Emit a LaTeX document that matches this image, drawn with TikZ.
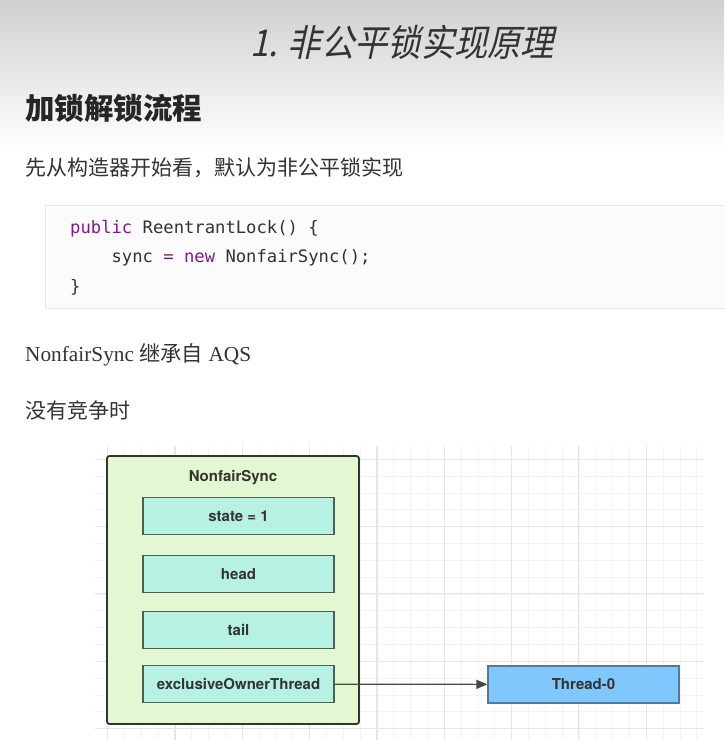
\documentclass[tikz,border=0pt]{standalone}
\usepackage{fontspec}
\setmainfont{Liberation Serif}
\newfontfamily\cjk{Noto Sans CJK SC}
\newfontfamily\titlefont{Noto Sans CJK SC}[FakeSlant=0.22,FakeStretch=0.9]
\newfontfamily\codefont{DejaVu Sans Mono}
\newfontfamily\diafont{TeX Gyre Heros}
\usetikzlibrary{arrows.meta}
\definecolor{txt}{HTML}{333333}
\definecolor{kw}{HTML}{7D1D84}
\definecolor{gridminor}{HTML}{F4F4F4}
\definecolor{gridmajor}{HTML}{E6E6E6}
\definecolor{outerfill}{HTML}{E3F8D2}
\definecolor{innerfill}{HTML}{B6F1E4}
\definecolor{innerdraw}{HTML}{4A6054}
\definecolor{thrfill}{HTML}{7FC7FC}
\definecolor{thrdraw}{HTML}{55789A}
\definecolor{codebg}{HTML}{FBFBFB}
\definecolor{codeframe}{HTML}{E6E6E6}
\definecolor{topgray}{HTML}{D0D0D0}
\tikzset{
  txtnode/.style={anchor=west,inner sep=0pt,text=txt},
  outerbox/.style={draw=txt,line width=1.8pt,fill=outerfill,rounded corners=2.5pt,minimum width=252pt,minimum height=268pt,inner sep=0pt},
  fieldbox/.style={draw=innerdraw,line width=1.4pt,fill=innerfill,minimum width=191pt,minimum height=37pt,inner sep=0pt,font=\diafont\bfseries\fontsize{15pt}{17pt}\selectfont,text=txt},
  threadbox/.style={draw=thrdraw,line width=1.2pt,fill=thrfill,minimum width=191pt,minimum height=37pt,inner sep=0pt,font=\diafont\bfseries\fontsize{15pt}{17pt}\selectfont,text=txt},
  conn/.style={draw=txt!90,line width=1.2pt,-{Triangle[length=11pt,width=9pt]}},
  codeline/.style={anchor=west,inner sep=0pt,font=\codefont\fontsize{17.2pt}{20pt}\selectfont,text=txt}
}
\begin{document}
\begin{tikzpicture}[x=1pt,y=-1pt]
\useasboundingbox (0,0) rectangle (724,740);
% background
\fill[white] (0,0) rectangle (724,740);
\shade[top color=topgray,bottom color=white] (0,0) rectangle (724,150);
% title
\node[txtnode,font=\titlefont\fontsize{37pt}{40pt}\selectfont] (title) at (250,42) {1. 非公平锁实现原理};
% heading
\node[txtnode,font=\cjk\bfseries\fontsize{29.5pt}{32pt}\selectfont,text=black!85] (head1) at (25,108) {加锁解锁流程};
\node[txtnode,font=\cjk\fontsize{21pt}{24pt}\selectfont] (intro) at (25,168) {先从构造器开始看，默认为非公平锁实现};
% code block
\draw[fill=codebg,draw=codeframe,line width=1pt] (45,205) rectangle (730,308);
\node[codeline] (c1) at (70,229) {\textcolor{kw}{public} ReentrantLock() \{};
\node[codeline] (c2) at (111.4,258) {sync \textcolor{kw}{=} \textcolor{kw}{new} NonfairSync();};
\node[codeline] (c3) at (70,287) {\}};
% texts
\node[txtnode,font=\fontsize{21.3pt}{24pt}\selectfont] (inh) at (25,355) {NonfairSync {\cjk 继承自} AQS};
\node[txtnode,font=\cjk\fontsize{21pt}{24pt}\selectfont] (nocomp) at (25,410) {没有竞争时};
% grid
\begin{scope}
\clip (95,446) rectangle (704,740);
\foreach \i in {-1,...,36}{
  \draw[gridminor,line width=0.8pt] ({107.7+16.83*\i},446) -- ({107.7+16.83*\i},740);
}
\foreach \j in {-1,...,17}{
  \draw[gridminor,line width=0.8pt] (95,{459.3+16.83*\j}) -- (704,{459.3+16.83*\j});
}
\foreach \i in {0,4,...,36}{
  \draw[gridmajor,line width=1.1pt] ({107.7+16.83*\i},446) -- ({107.7+16.83*\i},740);
}
\foreach \j in {0,4,...,16}{
  \draw[gridmajor,line width=1.1pt] (95,{459.3+16.83*\j}) -- (704,{459.3+16.83*\j});
}
\end{scope}
% diagram
\node[outerbox] (ns) at (233,590) {};
\node[inner sep=0pt,font=\diafont\bfseries\fontsize{15pt}{17pt}\selectfont,text=txt] (nslabel) at (233,478) {NonfairSync};
\node[fieldbox] (state) at (238.5,516) {state = 1};
\node[fieldbox] (headf) at (238.5,574) {head};
\node[fieldbox] (tail) at (238.5,630) {tail};
\node[fieldbox] (eot) at (238.5,684) {exclusiveOwnerThread};
\node[threadbox] (thr) at (583.5,684.5) {Thread-0};
\draw[conn] (eot) -- (thr);
\end{tikzpicture}
\end{document}
